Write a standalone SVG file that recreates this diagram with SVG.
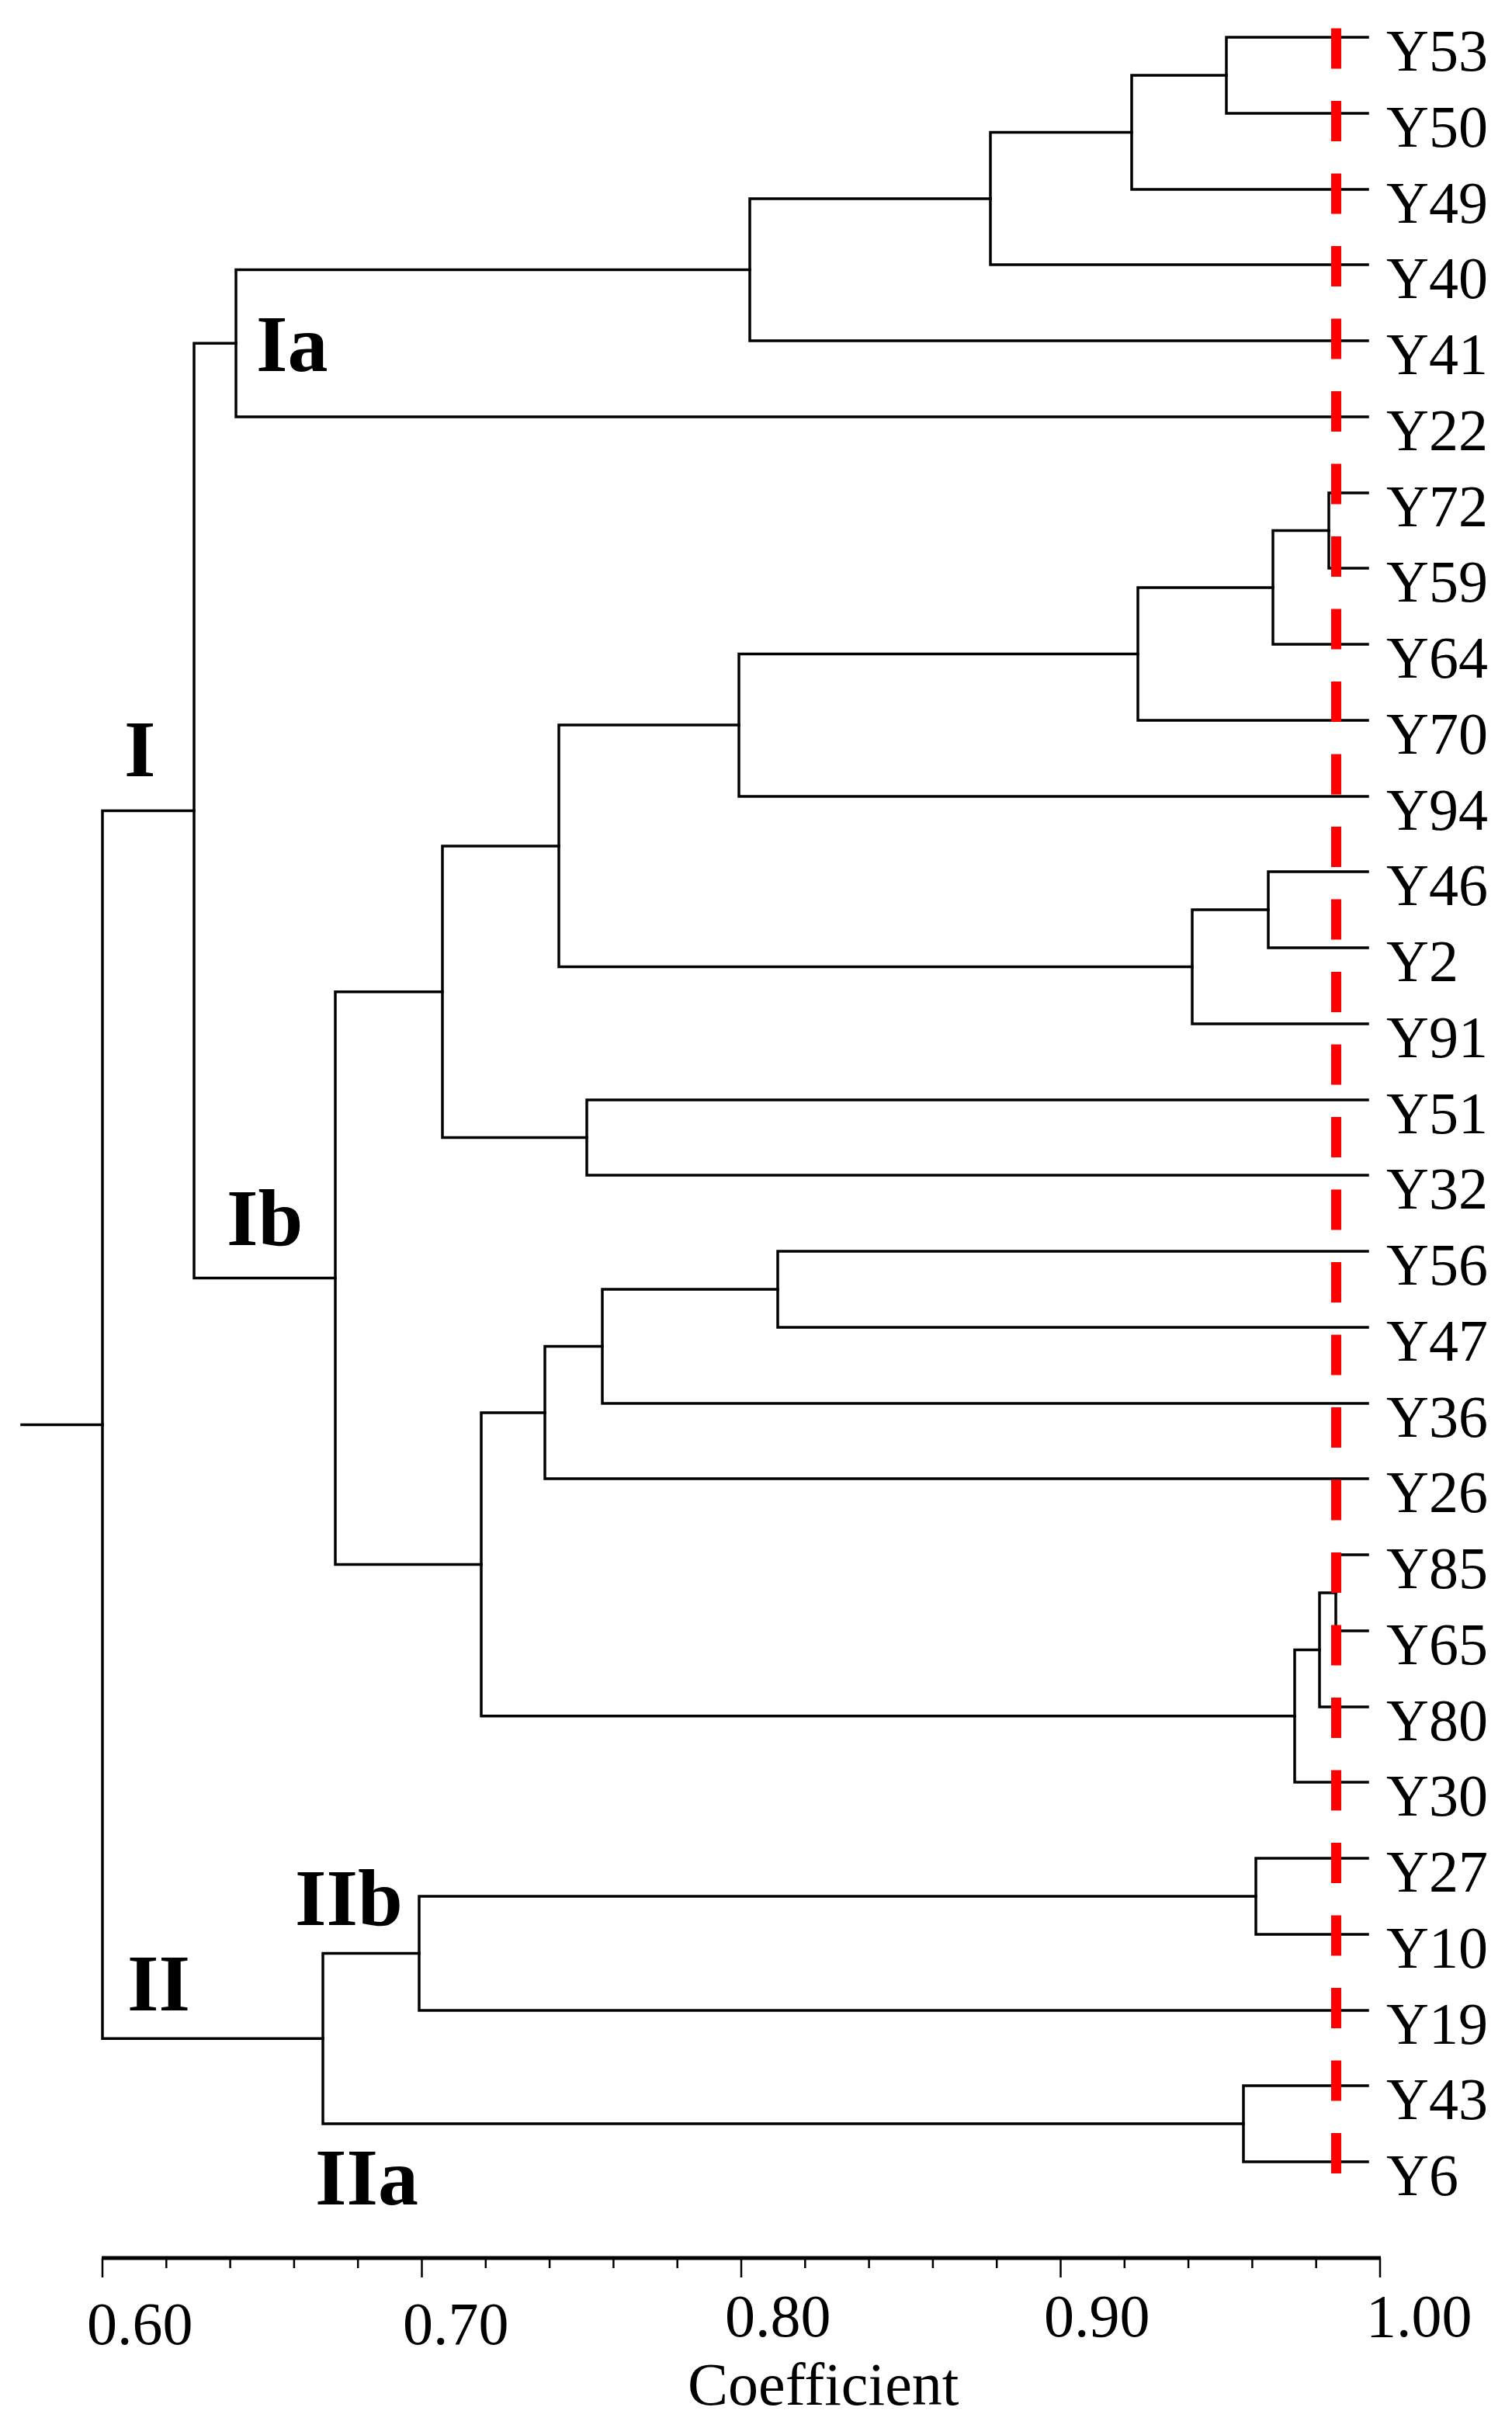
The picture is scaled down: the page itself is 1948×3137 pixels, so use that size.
<svg xmlns="http://www.w3.org/2000/svg" width="1948" height="3137" viewBox="0 0 1948 3137">
<style>
.br{fill:none;stroke:#000;stroke-width:3.5;stroke-linejoin:miter;stroke-linecap:square}
.lf{font-family:"Liberation Serif","Times New Roman",serif;font-size:76px;fill:#000}
.cl{font-family:"Liberation Serif","Times New Roman",serif;font-size:104px;font-weight:bold;fill:#000}
.ax{font-family:"Liberation Serif","Times New Roman",serif;font-size:78px;fill:#000}
.tk{stroke:#000;stroke-width:2.5}
</style>
<rect width="1948" height="3137" fill="#fff"/>
<g id="connectors">
<path class="br" d="M1762 48 H1580 V146 H1762"/>
<path class="br" d="M1580 97 H1458 V244 H1762"/>
<path class="br" d="M1458 170.5 H1276 V341 H1762"/>
<path class="br" d="M1276 256 H966 V439 H1762"/>
<path class="br" d="M966 347.5 H304 V537 H1762"/>
<path class="br" d="M1762 635 H1712 V732 H1762"/>
<path class="br" d="M1712 683.5 H1640 V830 H1762"/>
<path class="br" d="M1640 757 H1466 V928 H1762"/>
<path class="br" d="M1466 842.5 H952 V1026 H1762"/>
<path class="br" d="M1762 1123 H1634 V1221 H1762"/>
<path class="br" d="M1634 1172 H1536 V1319 H1762"/>
<path class="br" d="M952 934 H720 V1245.5 H1536"/>
<path class="br" d="M1762 1417 H756 V1514 H1762"/>
<path class="br" d="M720 1090 H570 V1465.5 H756"/>
<path class="br" d="M1762 1612 H1002 V1710 H1762"/>
<path class="br" d="M1002 1661 H776 V1808 H1762"/>
<path class="br" d="M776 1734.5 H702 V1905 H1762"/>
<path class="br" d="M1762 2003 H1721 V2101 H1762"/>
<path class="br" d="M1721 2052 H1700 V2199 H1762"/>
<path class="br" d="M1700 2125.5 H1668 V2296 H1762"/>
<path class="br" d="M702 1820 H620 V2210.75 H1668"/>
<path class="br" d="M570 1277.75 H432 V2015.4 H620"/>
<path class="br" d="M304 442.25 H250 V1646.6 H432"/>
<path class="br" d="M1762 2394 H1618 V2492 H1762"/>
<path class="br" d="M1618 2443 H540 V2590 H1762"/>
<path class="br" d="M1762 2687 H1602 V2785 H1762"/>
<path class="br" d="M540 2516.5 H416 V2736 H1602"/>
<path class="br" d="M250 1044.5 H132 V2626.25 H416"/>
<path class="br" d="M28 1835.4 H132"/>
</g>
<line id="cutoff" x1="1721.5" y1="36.5" x2="1721.5" y2="2800" stroke="#ff0000" stroke-width="13" stroke-dasharray="52 41.5"/>
<g id="leaves">
<g id="Y53"><text class="lf" x="1786" y="91">Y53</text></g>
<g id="Y50"><text class="lf" x="1786" y="189">Y50</text></g>
<g id="Y49"><text class="lf" x="1786" y="287">Y49</text></g>
<g id="Y40"><text class="lf" x="1786" y="384">Y40</text></g>
<g id="Y41"><text class="lf" x="1786" y="482">Y41</text></g>
<g id="Y22"><text class="lf" x="1786" y="580">Y22</text></g>
<g id="Y72"><text class="lf" x="1786" y="678">Y72</text></g>
<g id="Y59"><text class="lf" x="1786" y="775">Y59</text></g>
<g id="Y64"><text class="lf" x="1786" y="873">Y64</text></g>
<g id="Y70"><text class="lf" x="1786" y="971">Y70</text></g>
<g id="Y94"><text class="lf" x="1786" y="1069">Y94</text></g>
<g id="Y46"><text class="lf" x="1786" y="1166">Y46</text></g>
<g id="Y2"><text class="lf" x="1786" y="1264">Y2</text></g>
<g id="Y91"><text class="lf" x="1786" y="1362">Y91</text></g>
<g id="Y51"><text class="lf" x="1786" y="1460">Y51</text></g>
<g id="Y32"><text class="lf" x="1786" y="1557">Y32</text></g>
<g id="Y56"><text class="lf" x="1786" y="1655">Y56</text></g>
<g id="Y47"><text class="lf" x="1786" y="1753">Y47</text></g>
<g id="Y36"><text class="lf" x="1786" y="1851">Y36</text></g>
<g id="Y26"><text class="lf" x="1786" y="1948">Y26</text></g>
<g id="Y85"><text class="lf" x="1786" y="2046">Y85</text></g>
<g id="Y65"><text class="lf" x="1786" y="2144">Y65</text></g>
<g id="Y80"><text class="lf" x="1786" y="2242">Y80</text></g>
<g id="Y30"><text class="lf" x="1786" y="2339">Y30</text></g>
<g id="Y27"><text class="lf" x="1786" y="2437">Y27</text></g>
<g id="Y10"><text class="lf" x="1786" y="2535">Y10</text></g>
<g id="Y19"><text class="lf" x="1786" y="2633">Y19</text></g>
<g id="Y43"><text class="lf" x="1786" y="2730">Y43</text></g>
<g id="Y6"><text class="lf" x="1786" y="2828">Y6</text></g>
</g>
<g id="clusters">
<g id="cl-I"><text class="cl" x="160" y="1000">I</text></g>
<g id="cl-Ia"><text class="cl" x="330" y="478">Ia</text></g>
<g id="cl-Ib"><text class="cl" x="292" y="1604">Ib</text></g>
<g id="cl-II"><text class="cl" x="164" y="2590">II</text></g>
<g id="cl-IIb"><text class="cl" x="380" y="2480">IIb</text></g>
<g id="cl-IIa"><text class="cl" x="406" y="2840">IIa</text></g>
</g>
<g id="axis">
<line x1="131" y1="2909" x2="1779" y2="2909" stroke="#000" stroke-width="5"/>
<g class="tk">
<line x1="132" y1="2909" x2="132" y2="2934"/>
<line x1="214.3" y1="2909" x2="214.3" y2="2922"/>
<line x1="296.6" y1="2909" x2="296.6" y2="2922"/>
<line x1="378.9" y1="2909" x2="378.9" y2="2922"/>
<line x1="461.2" y1="2909" x2="461.2" y2="2922"/>
<line x1="543.5" y1="2909" x2="543.5" y2="2934"/>
<line x1="625.8" y1="2909" x2="625.8" y2="2922"/>
<line x1="708.1" y1="2909" x2="708.1" y2="2922"/>
<line x1="790.4" y1="2909" x2="790.4" y2="2922"/>
<line x1="872.7" y1="2909" x2="872.7" y2="2922"/>
<line x1="955" y1="2909" x2="955" y2="2934"/>
<line x1="1037.3" y1="2909" x2="1037.3" y2="2922"/>
<line x1="1119.6" y1="2909" x2="1119.6" y2="2922"/>
<line x1="1201.9" y1="2909" x2="1201.9" y2="2922"/>
<line x1="1284.2" y1="2909" x2="1284.2" y2="2922"/>
<line x1="1366.5" y1="2909" x2="1366.5" y2="2934"/>
<line x1="1448.8" y1="2909" x2="1448.8" y2="2922"/>
<line x1="1531.1" y1="2909" x2="1531.1" y2="2922"/>
<line x1="1613.4" y1="2909" x2="1613.4" y2="2922"/>
<line x1="1695.7" y1="2909" x2="1695.7" y2="2922"/>
<line x1="1778" y1="2909" x2="1778" y2="2934"/>
</g>
<text class="ax" x="112" y="3020">0.60</text>
<text class="ax" x="519" y="3020">0.70</text>
<text class="ax" x="934" y="3010">0.80</text>
<text class="ax" x="1345" y="3010">0.90</text>
<text class="ax" x="1760" y="3010">1.00</text>
<text class="ax" x="886" y="3098">Coefficient</text>
</g>
</svg>
